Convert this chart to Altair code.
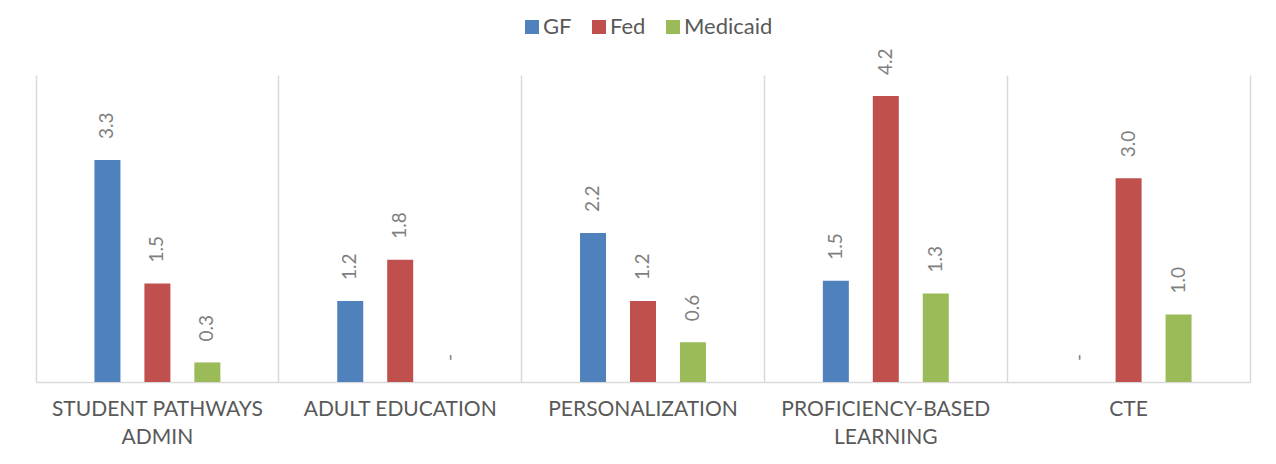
import altair as alt
import pandas as pd

categories = ["STUDENT PATHWAYS ADMIN", "ADULT EDUCATION", "PERSONALIZATION",
              "PROFICIENCY-BASED LEARNING", "CTE"]
series = ["GF", "Fed", "Medicaid"]
gf = [3.29, 1.2, 2.21, 1.5, 0.0]
fed = [1.46, 1.81, 1.2, 4.24, 3.02]
medicaid = [0.29, 0.0, 0.59, 1.31, 1.0]
colors = ["#4f81bd", "#c0504d", "#9bbb59"]

rows = []
for name, vals in zip(series, [gf, fed, medicaid]):
    for c, v in zip(categories, vals):
        rows.append({"category": c, "series": name, "value": v,
                     "label": "-" if v == 0 else f"{v:.1f}"})
df = pd.DataFrame(rows)

FONT = "Lato"
GRAY = "#595959"
LGRAY = "#7f7f7f"
LINE = "#d9d9d9"

label_expr = ("datum.label == 'STUDENT PATHWAYS ADMIN' ? ['STUDENT PATHWAYS', 'ADMIN'] : "
              "datum.label == 'PROFICIENCY-BASED LEARNING' ? ['PROFICIENCY-BASED', 'LEARNING'] : datum.label")

x = alt.X("category:N", sort=categories,
          scale=alt.Scale(paddingInner=0, paddingOuter=0),
          axis=alt.Axis(title=None, labelAngle=0, ticks=False, domainColor=LINE, domainWidth=1.5,
                        grid=True, gridColor=LINE, gridWidth=1.5, bandPosition=0,
                        labelExpr=label_expr, labelFont=FONT, labelFontSize=21,
                        labelColor=GRAY, labelPadding=16, labelLineHeight=28,
                        labelBaseline="top", labelLimit=400))
xoff = alt.XOffset("series:N", sort=series,
                   scale=alt.Scale(paddingInner=0.14, paddingOuter=1))
y = alt.Y("value:Q", scale=alt.Scale(domain=[0, 4.55], nice=False, zero=True),
          axis=alt.Axis(orient="right", title=None, labels=False, ticks=False, grid=False,
                        domain=True, domainColor=LINE, domainWidth=1.5))

bars = alt.Chart(df).mark_bar(width=26).encode(
    x=x, xOffset=xoff, y=y,
    color=alt.Color("series:N", sort=series,
                    scale=alt.Scale(domain=series, range=colors),
                    legend=alt.Legend(title=None, orient="none", direction="horizontal",
                                      legendX=485, legendY=-59, symbolType="square",
                                      symbolSize=196, symbolStrokeWidth=0, labelFont=FONT,
                                      labelFontSize=22, labelColor=GRAY, labelOffset=0,
                                      columnPadding=16, padding=0)),
)

labels = alt.Chart(df).mark_text(angle=270, align="left", baseline="middle", dx=21,
                                 font=FONT, fontSize=19, color=LGRAY).encode(
    x=alt.X("category:N", sort=categories), xOffset=alt.XOffset("series:N", sort=series),
    y=alt.Y("value:Q"), text="label:N")

chart = alt.layer(bars, labels).properties(
    width=1214, height=307,
    autosize=alt.AutoSizeParams(type="none"),
    padding={"left": 28, "top": 67, "right": 18, "bottom": 70},
    background="white",
).configure_view(stroke=None)

chart.save("out.html", embed_options={"renderer": "svg", "actions": False})
